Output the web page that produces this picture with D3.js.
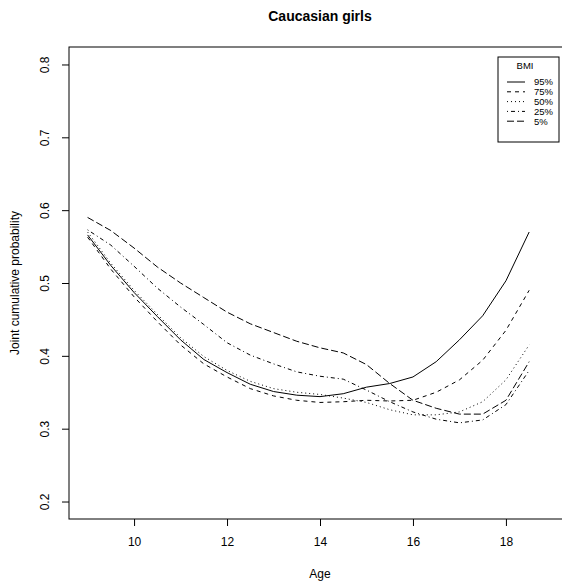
<!doctype html>
<html lang="en">
<head>
  <meta charset="utf-8">
  <title>Caucasian girls</title>
  <style>
    body { margin: 0; background: #fff; }
    svg text { font-family: "Liberation Sans", Arial, sans-serif; fill: #000; }
  </style>
</head>
<body>
  <div id="vis"></div>

  <script src="https://cdn.jsdelivr.net/npm/d3@7/dist/d3.min.js"></script>
  <script>
    // values
    const ages = [9, 9.5, 10, 10.5, 11, 11.5, 12, 12.5, 13, 13.5, 14, 14.5, 15, 15.5, 16, 16.5, 17, 17.5, 18, 18.5];
    const bmiLabels = ['95%', '75%', '50%', '25%', '5%'];
    const p95 = [0.566, 0.524, 0.487, 0.454, 0.422, 0.395, 0.377, 0.361, 0.351, 0.346, 0.344, 0.348, 0.357, 0.362, 0.371, 0.392, 0.422, 0.455, 0.503, 0.570];
    const p75 = [0.563, 0.519, 0.481, 0.447, 0.415, 0.389, 0.371, 0.355, 0.345, 0.339, 0.336, 0.337, 0.339, 0.338, 0.339, 0.350, 0.367, 0.394, 0.435, 0.490];
    const p50 = [0.570, 0.527, 0.490, 0.457, 0.425, 0.399, 0.380, 0.365, 0.355, 0.350, 0.347, 0.342, 0.336, 0.326, 0.319, 0.319, 0.323, 0.337, 0.367, 0.415];
    const p25 = [0.573, 0.552, 0.523, 0.493, 0.467, 0.443, 0.418, 0.401, 0.389, 0.378, 0.372, 0.368, 0.353, 0.337, 0.323, 0.313, 0.308, 0.312, 0.333, 0.380];
    const p05 = [0.590, 0.572, 0.548, 0.522, 0.500, 0.480, 0.460, 0.444, 0.432, 0.420, 0.411, 0.404, 0.388, 0.362, 0.339, 0.328, 0.320, 0.320, 0.339, 0.392];
    const xTicks = [10, 12, 14, 16, 18];
    const yTicks = [0.2, 0.3, 0.4, 0.5, 0.6, 0.7, 0.8];

    const series = [p95, p75, p50, p25, p05];
    const dashes = [null, '4,4', '1,3', '1,3,4,3', '7,3'];

    const w = 562, h = 583;
    const box = { left: 69, right: 571, top: 47, bottom: 519 };

    const x = d3.scaleLinear().domain([8.6, 19.4]).range([box.left, box.right]);
    const y = d3.scaleLinear().domain([0.176, 0.824]).range([box.bottom, box.top]);

    const svg = d3.select('#vis')
      .append('svg')
        .attr('width', w)
        .attr('height', h);

    // axes
    const xAxis = svg.append('g')
      .attr('transform', 'translate(0,' + box.bottom + ')')
      .call(d3.axisBottom(x).tickValues(xTicks).tickSize(7).tickPadding(11).tickFormat(d3.format('d')));
    const yAxis = svg.append('g')
      .attr('transform', 'translate(' + box.left + ',0)')
      .call(d3.axisLeft(y).tickValues(yTicks).tickSize(7).tickFormat(d3.format('.1f')));

    [xAxis, yAxis].forEach(g => {
      g.select('.domain').remove();
      g.selectAll('line').attr('stroke', '#000');
      g.selectAll('text').style('font-size', '12px').attr('fill', '#000');
    });

    // rotated y tick labels, like R
    yAxis.selectAll('.tick text')
      .attr('x', null).attr('dy', null)
      .attr('transform', 'translate(-20,0) rotate(-90)')
      .style('text-anchor', 'middle');

    svg.append('rect')
      .attr('x', box.left)
      .attr('y', box.top)
      .attr('width', box.right - box.left)
      .attr('height', box.bottom - box.top)
      .attr('fill', 'none')
      .attr('stroke', '#000')
      .attr('stroke-width', 1);

    // curves
    const line = d3.line()
      .x((d, i) => x(ages[i]))
      .y(d => y(d));

    svg.selectAll('.curve')
      .data(series)
      .enter()
      .append('path')
        .attr('class', 'curve')
        .attr('d', line)
        .attr('fill', 'none')
        .attr('stroke', '#000')
        .attr('stroke-width', 1)
        .attr('stroke-dasharray', (d, i) => dashes[i]);

    // titles
    svg.append('text')
      .attr('x', (box.left + box.right) / 2)
      .attr('y', 21)
      .style('text-anchor', 'middle')
      .style('font-size', '14px')
      .style('font-weight', 'bold')
      .text('Caucasian girls');

    svg.append('text')
      .attr('x', (box.left + box.right) / 2)
      .attr('y', 578)
      .style('text-anchor', 'middle')
      .style('font-size', '12px')
      .text('Age');

    svg.append('text')
      .attr('transform', 'translate(19,' + ((box.top + box.bottom) / 2) + ') rotate(-90)')
      .style('text-anchor', 'middle')
      .style('font-size', '12px')
      .text('Joint cumulative probability');

    // legend
    const lg = svg.append('g').attr('transform', 'translate(498,57)');
    lg.append('rect')
      .attr('width', 61)
      .attr('height', 85)
      .attr('fill', '#fff')
      .attr('stroke', '#000');
    lg.append('text')
      .attr('x', 27)
      .attr('y', 12)
      .style('text-anchor', 'middle')
      .style('font-size', '9.5px')
      .text('BMI');
    const rows = lg.selectAll('.row')
      .data(bmiLabels)
      .enter()
      .append('g')
        .attr('class', 'row')
        .attr('transform', (d, i) => 'translate(0,' + (25 + i * 9.8) + ')');
    rows.append('line')
      .attr('x1', 9).attr('x2', 27)
      .attr('stroke', '#000')
      .attr('stroke-dasharray', (d, i) => dashes[i]);
    rows.append('text')
      .attr('x', 36)
      .attr('dy', '0.35em')
      .style('font-size', '9.5px')
      .text(d => d);
  </script>
</body>
</html>
